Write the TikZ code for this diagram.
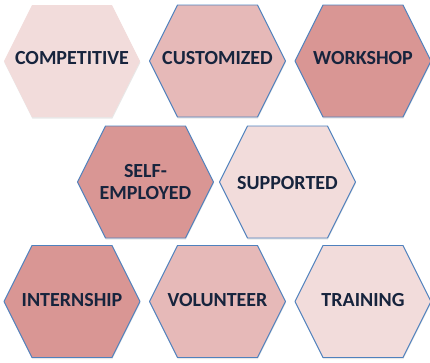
\documentclass[tikz,border=0pt]{standalone}
\usepackage{fontspec}
\setmainfont{Carlito}
\usetikzlibrary{shadows}
\definecolor{pinkA}{HTML}{F2DCDB}
\definecolor{pinkB}{HTML}{E6B9B8}
\definecolor{pinkC}{HTML}{D99694}
\definecolor{hexline}{HTML}{4F81BD}
\definecolor{hexfont}{HTML}{17243D}
\tikzstyle{hexa} = [line width=0.7pt, line join=round, drop shadow={shadow xshift=0.3pt, shadow yshift=-1.2pt, opacity=0.18}]
\tikzstyle{hextext} = [text=hexfont, font=\bfseries\fontsize{15}{16.5}\selectfont, align=center]

\begin{document}
\begin{tikzpicture}[x=0.75pt, y=-0.75pt]
    \useasboundingbox (0,0) rectangle (430,362);
    % name / centre x / centre y / text y / fill / border / text
    \foreach \n/\x/\y/\ty/\c/\d/\t in {
        comp/72/61/58/pinkA/none/COMPETITIVE,
        cust/217.5/61/58/pinkB/hexline/CUSTOMIZED,
        work/363/61/58/pinkC/hexline/WORKSHOP,
        self/145.5/182/182/pinkC/hexline/{SELF-\\EMPLOYED},
        supp/287.5/182/183/pinkA/hexline/SUPPORTED,
        intern/72/301.5/300.5/pinkC/hexline/INTERNSHIP,
        volun/217.5/301.5/300.5/pinkB/hexline/VOLUNTEER,
        train/363/301.5/300.5/pinkA/hexline/TRAINING}
    {
        \draw[hexa, fill=\c, draw=\d] (\x,\y) ++(-68,0) -- ++(28,-56) -- ++(80,0) -- ++(28,56) -- ++(-28,56) -- ++(-80,0) -- cycle;
        \node[hextext] (\n) at (\x,\ty) {\t};
    }
\end{tikzpicture}
\end{document}
